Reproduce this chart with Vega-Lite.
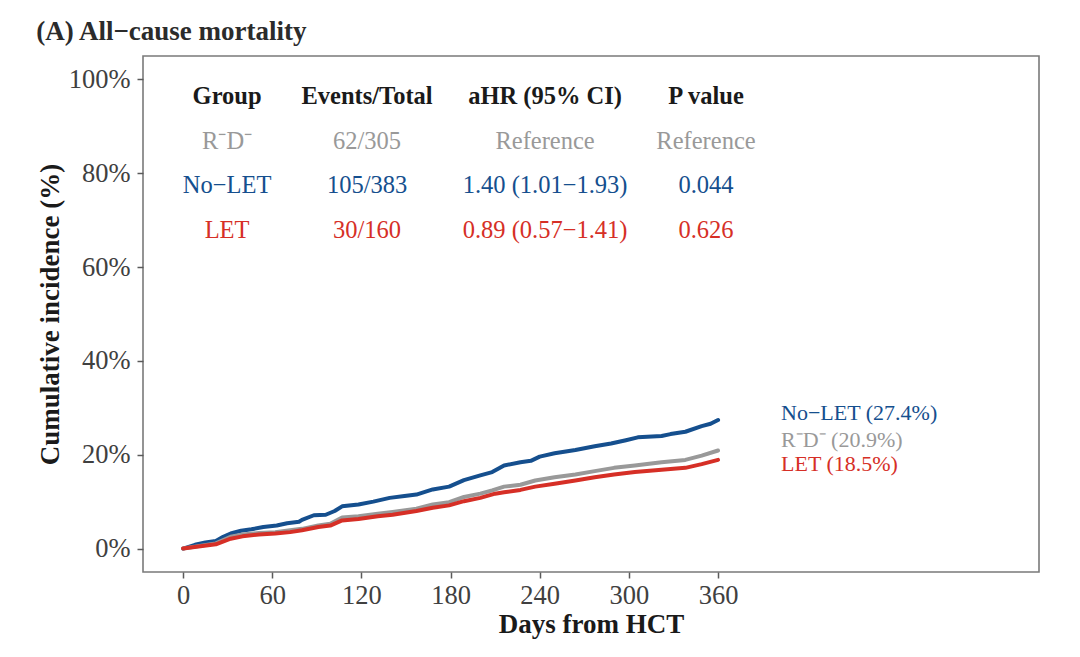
{
  "$schema": "https://vega.github.io/schema/vega-lite/v6.json",
  "width": 896,
  "height": 516,
  "autosize": {"type": "none"},
  "padding": {"left": 143, "top": 56, "right": 41, "bottom": 85},
  "background": "white",
  "title": {
    "text": "(A) All−cause mortality",
    "anchor": "start",
    "frame": "bounds",
    "font": "Liberation Serif",
    "fontSize": 27,
    "fontWeight": "bold",
    "color": "#2b2b2b",
    "offset": 10
  },
  "config": {
    "view": {"stroke": "#7a7a7a", "strokeWidth": 1.6},
    "axis": {
      "domain": false,
      "grid": false,
      "labelFont": "Liberation Serif",
      "labelFontSize": 26.5,
      "labelColor": "#404040",
      "titleFont": "Liberation Serif",
      "titleFontSize": 27,
      "titleFontWeight": "bold",
      "titleColor": "#1a1a1a",
      "tickColor": "#5a5a5a",
      "tickWidth": 1.5,
      "tickSize": 6
    },
    "text": {"font": "Liberation Serif"}
  },
  "datasets": {
    "curves": [
      {"group": "No−LET", "day": 0, "pct": 0},
      {"group": "No−LET", "day": 8, "pct": 0.8},
      {"group": "No−LET", "day": 15, "pct": 1.3},
      {"group": "No−LET", "day": 22, "pct": 1.6},
      {"group": "No−LET", "day": 27, "pct": 2.5},
      {"group": "No−LET", "day": 32, "pct": 3.2},
      {"group": "No−LET", "day": 39, "pct": 3.8},
      {"group": "No−LET", "day": 46, "pct": 4.1},
      {"group": "No−LET", "day": 54, "pct": 4.6},
      {"group": "No−LET", "day": 63, "pct": 4.9},
      {"group": "No−LET", "day": 70, "pct": 5.4},
      {"group": "No−LET", "day": 78, "pct": 5.7},
      {"group": "No−LET", "day": 80, "pct": 6.1},
      {"group": "No−LET", "day": 88, "pct": 7.1},
      {"group": "No−LET", "day": 96, "pct": 7.2},
      {"group": "No−LET", "day": 102, "pct": 8.0},
      {"group": "No−LET", "day": 107, "pct": 9.0},
      {"group": "No−LET", "day": 118, "pct": 9.4},
      {"group": "No−LET", "day": 128, "pct": 10.0},
      {"group": "No−LET", "day": 139, "pct": 10.8},
      {"group": "No−LET", "day": 149, "pct": 11.2},
      {"group": "No−LET", "day": 157, "pct": 11.5},
      {"group": "No−LET", "day": 168, "pct": 12.6},
      {"group": "No−LET", "day": 179, "pct": 13.2},
      {"group": "No−LET", "day": 189, "pct": 14.6},
      {"group": "No−LET", "day": 200, "pct": 15.6},
      {"group": "No−LET", "day": 208, "pct": 16.3},
      {"group": "No−LET", "day": 216, "pct": 17.7},
      {"group": "No−LET", "day": 227, "pct": 18.4},
      {"group": "No−LET", "day": 234, "pct": 18.7},
      {"group": "No−LET", "day": 240, "pct": 19.6},
      {"group": "No−LET", "day": 250, "pct": 20.3},
      {"group": "No−LET", "day": 264, "pct": 21.0},
      {"group": "No−LET", "day": 277, "pct": 21.8},
      {"group": "No−LET", "day": 288, "pct": 22.4},
      {"group": "No−LET", "day": 298, "pct": 23.1},
      {"group": "No−LET", "day": 306, "pct": 23.7},
      {"group": "No−LET", "day": 322, "pct": 24.0},
      {"group": "No−LET", "day": 328, "pct": 24.4},
      {"group": "No−LET", "day": 338, "pct": 24.9},
      {"group": "No−LET", "day": 349, "pct": 26.1},
      {"group": "No−LET", "day": 355, "pct": 26.6},
      {"group": "No−LET", "day": 360, "pct": 27.4},
      {"group": "R⁻D⁻", "day": 0, "pct": 0},
      {"group": "R⁻D⁻", "day": 22, "pct": 1.1},
      {"group": "R⁻D⁻", "day": 32, "pct": 2.5},
      {"group": "R⁻D⁻", "day": 40, "pct": 3.0},
      {"group": "R⁻D⁻", "day": 51, "pct": 3.3},
      {"group": "R⁻D⁻", "day": 62, "pct": 3.5},
      {"group": "R⁻D⁻", "day": 72, "pct": 3.9},
      {"group": "R⁻D⁻", "day": 80, "pct": 4.2},
      {"group": "R⁻D⁻", "day": 91, "pct": 4.9},
      {"group": "R⁻D⁻", "day": 99, "pct": 5.3},
      {"group": "R⁻D⁻", "day": 107, "pct": 6.6},
      {"group": "R⁻D⁻", "day": 118, "pct": 6.9},
      {"group": "R⁻D⁻", "day": 131, "pct": 7.4},
      {"group": "R⁻D⁻", "day": 141, "pct": 7.8},
      {"group": "R⁻D⁻", "day": 157, "pct": 8.5},
      {"group": "R⁻D⁻", "day": 168, "pct": 9.4},
      {"group": "R⁻D⁻", "day": 179, "pct": 9.9},
      {"group": "R⁻D⁻", "day": 189, "pct": 11.0},
      {"group": "R⁻D⁻", "day": 200, "pct": 11.7},
      {"group": "R⁻D⁻", "day": 208, "pct": 12.4},
      {"group": "R⁻D⁻", "day": 216, "pct": 13.2},
      {"group": "R⁻D⁻", "day": 227, "pct": 13.6},
      {"group": "R⁻D⁻", "day": 237, "pct": 14.5},
      {"group": "R⁻D⁻", "day": 250, "pct": 15.2},
      {"group": "R⁻D⁻", "day": 264, "pct": 15.8},
      {"group": "R⁻D⁻", "day": 277, "pct": 16.5},
      {"group": "R⁻D⁻", "day": 290, "pct": 17.2},
      {"group": "R⁻D⁻", "day": 304, "pct": 17.7},
      {"group": "R⁻D⁻", "day": 322, "pct": 18.4},
      {"group": "R⁻D⁻", "day": 338, "pct": 18.9},
      {"group": "R⁻D⁻", "day": 349, "pct": 19.8},
      {"group": "R⁻D⁻", "day": 360, "pct": 20.9},
      {"group": "LET", "day": 0, "pct": 0},
      {"group": "LET", "day": 22, "pct": 0.9},
      {"group": "LET", "day": 32, "pct": 2.1},
      {"group": "LET", "day": 40, "pct": 2.6},
      {"group": "LET", "day": 51, "pct": 3.0},
      {"group": "LET", "day": 62, "pct": 3.2},
      {"group": "LET", "day": 72, "pct": 3.5},
      {"group": "LET", "day": 80, "pct": 3.9},
      {"group": "LET", "day": 91, "pct": 4.6},
      {"group": "LET", "day": 99, "pct": 4.9},
      {"group": "LET", "day": 107, "pct": 6.0},
      {"group": "LET", "day": 118, "pct": 6.3},
      {"group": "LET", "day": 131, "pct": 6.9},
      {"group": "LET", "day": 141, "pct": 7.2},
      {"group": "LET", "day": 157, "pct": 8.0},
      {"group": "LET", "day": 168, "pct": 8.7},
      {"group": "LET", "day": 179, "pct": 9.2},
      {"group": "LET", "day": 189, "pct": 10.1},
      {"group": "LET", "day": 200, "pct": 10.8},
      {"group": "LET", "day": 210, "pct": 11.7},
      {"group": "LET", "day": 216, "pct": 12.0},
      {"group": "LET", "day": 227, "pct": 12.5},
      {"group": "LET", "day": 237, "pct": 13.2},
      {"group": "LET", "day": 250, "pct": 13.8},
      {"group": "LET", "day": 264, "pct": 14.5},
      {"group": "LET", "day": 277, "pct": 15.2},
      {"group": "LET", "day": 290, "pct": 15.8},
      {"group": "LET", "day": 304, "pct": 16.3},
      {"group": "LET", "day": 322, "pct": 16.8},
      {"group": "LET", "day": 338, "pct": 17.2},
      {"group": "LET", "day": 349, "pct": 18.0},
      {"group": "LET", "day": 360, "pct": 18.9}
    ],
    "header": [
      {"group": "Header", "c1": "Group", "c2": "Events/Total", "c3": "aHR (95% CI)", "c4": "P value"}
    ],
    "table": [
      {"group": "R⁻D⁻", "c1": "R⁻D⁻", "c2": "62/305", "c3": "Reference", "c4": "Reference"},
      {"group": "No−LET", "c1": "No−LET", "c2": "105/383", "c3": "1.40 (1.01−1.93)", "c4": "0.044"},
      {"group": "LET", "c1": "LET", "c2": "30/160", "c3": "0.89 (0.57−1.41)", "c4": "0.626"}
    ],
    "ends": [
      {"group": "No−LET", "label": "No−LET (27.4%)", "pct": 27.4},
      {"group": "R⁻D⁻", "label": "R⁻D⁻ (20.9%)", "pct": 20.9},
      {"group": "LET", "label": "LET (18.5%)", "pct": 18.5}
    ]
  },
  "resolve": {"scale": {"y": "independent"}},
  "layer": [
    {
      "data": {"name": "curves"},
      "mark": {"type": "line", "strokeWidth": 4, "strokeCap": "round", "strokeJoin": "round"},
      "encoding": {
        "x": {
          "field": "day", "type": "quantitative",
          "scale": {"domain": [-27, 576], "nice": false, "zero": false},
          "axis": {"values": [0, 60, 120, 180, 240, 300, 360], "title": "Days from HCT", "labelPadding": 4, "titlePadding": 3}
        },
        "y": {
          "field": "pct", "type": "quantitative",
          "scale": {"domain": [-5, 105], "nice": false, "zero": false},
          "axis": {"values": [0, 20, 40, 60, 80, 100], "title": "Cumulative incidence (%)", "labelExpr": "datum.value + '%'", "labelPadding": 7, "titlePadding": 4}
        },
        "color": {
          "field": "group", "type": "nominal",
          "scale": {"domain": ["Header", "R⁻D⁻", "No−LET", "LET"], "range": ["#1a1a1a", "#999999", "#154f8e", "#d62f26"]},
          "legend": null
        }
      }
    },
    {
      "data": {"name": "header"},
      "layer": [
        {"mark": {"type": "text", "fontSize": 24.5, "fontWeight": "bold", "align": "center", "baseline": "middle"},
         "encoding": {"x": {"datum": 29.6}, "text": {"field": "c1"}}},
        {"mark": {"type": "text", "fontSize": 24.5, "fontWeight": "bold", "align": "center", "baseline": "middle"},
         "encoding": {"x": {"datum": 123.8}, "text": {"field": "c2"}}},
        {"mark": {"type": "text", "fontSize": 24.5, "fontWeight": "bold", "align": "center", "baseline": "middle"},
         "encoding": {"x": {"datum": 243.6}, "text": {"field": "c3"}}},
        {"mark": {"type": "text", "fontSize": 24.5, "fontWeight": "bold", "align": "center", "baseline": "middle"},
         "encoding": {"x": {"datum": 351.9}, "text": {"field": "c4"}}}
      ],
      "encoding": {
        "y": {"field": "group", "type": "nominal", "scale": {"type": "point", "domain": ["Header", "R⁻D⁻", "No−LET", "LET"], "range": [41, 175], "padding": 0}, "axis": null},
        "color": {"field": "group", "type": "nominal", "legend": null}
      }
    },
    {
      "data": {"name": "table"},
      "layer": [
        {"mark": {"type": "text", "fontSize": 24.5, "align": "center", "baseline": "middle"},
         "encoding": {"x": {"datum": 29.6}, "text": {"field": "c1"}}},
        {"mark": {"type": "text", "fontSize": 24.5, "align": "center", "baseline": "middle"},
         "encoding": {"x": {"datum": 123.8}, "text": {"field": "c2"}}},
        {"mark": {"type": "text", "fontSize": 24.5, "align": "center", "baseline": "middle"},
         "encoding": {"x": {"datum": 243.6}, "text": {"field": "c3"}}},
        {"mark": {"type": "text", "fontSize": 24.5, "align": "center", "baseline": "middle"},
         "encoding": {"x": {"datum": 351.9}, "text": {"field": "c4"}}}
      ],
      "encoding": {
        "y": {"field": "group", "type": "nominal", "scale": {"type": "point", "domain": ["Header", "R⁻D⁻", "No−LET", "LET"], "range": [41, 175], "padding": 0}, "axis": null},
        "color": {"field": "group", "type": "nominal", "legend": null}
      }
    },
    {
      "data": {"name": "ends"},
      "layer": [
        {"transform": [{"filter": "datum.group == 'No−LET'"}],
         "mark": {"type": "text", "fontSize": 22, "align": "left", "baseline": "middle", "dy": -7.5}},
        {"transform": [{"filter": "datum.group == 'R⁻D⁻'"}],
         "mark": {"type": "text", "fontSize": 22, "align": "left", "baseline": "middle", "dy": -11}},
        {"transform": [{"filter": "datum.group == 'LET'"}],
         "mark": {"type": "text", "fontSize": 22, "align": "left", "baseline": "middle", "dy": 2}}
      ],
      "encoding": {
        "x": {"datum": 402.4},
        "y": {"field": "pct", "type": "quantitative", "scale": {"domain": [-5, 105], "nice": false, "zero": false}, "axis": null},
        "text": {"field": "label"},
        "color": {"field": "group", "type": "nominal", "legend": null}
      }
    }
  ]
}
